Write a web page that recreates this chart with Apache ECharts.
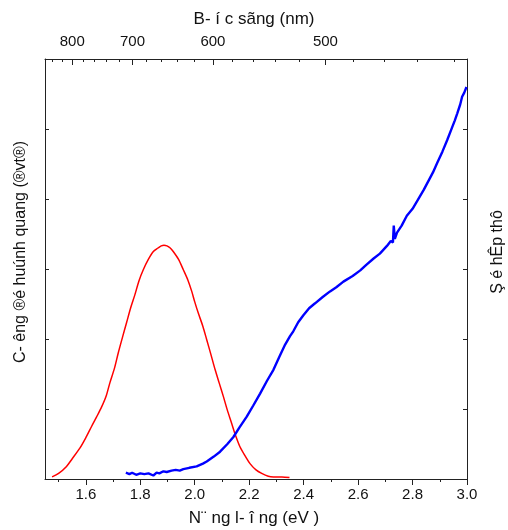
<!DOCTYPE html>
<html><head><meta charset="utf-8">
<script src="https://cdn.jsdelivr.net/npm/echarts@6/dist/echarts.min.js"></script>
<style>html,body{margin:0;padding:0;background:#fff}#c{width:508px;height:530px}</style>
</head><body><div id="c"></div>
<script>
// Bottom axis (energy, eV)
const energyTicks = [1.6, 1.8, 2.0, 2.2, 2.4, 2.6, 2.8, 3.0];
const energyMinorTicks = [1.5, 1.7, 1.9, 2.1, 2.3, 2.5, 2.7, 2.9];
// Top axis (wavelength, nm)
const waveTicks = [800, 700, 600, 500];
const waveMinorTicks = [840, 820, 780, 760, 740, 720, 680, 660, 640, 620, 580, 560, 540, 520, 480, 460, 440, 420];
// Photoluminescence (red)
const plE = [1.476,1.50,1.529,1.55,1.578,1.60,1.621,1.64,1.658,1.675,1.688,1.705,1.719,1.735,1.750,1.765,1.780,1.795,1.811,1.83,1.848,1.865,1.877,1.887,1.898,1.91,1.921,1.94,1.958,1.975,1.989,2.00,2.013,2.03,2.044,2.06,2.075,2.09,2.105,2.12,2.136,2.15,2.166,2.185,2.203,2.225,2.246,2.27,2.289,2.32,2.348];
const plY = [0.03,0.08,0.18,0.29,0.44,0.59,0.75,0.89,1.03,1.19,1.37,1.58,1.80,2.03,2.24,2.45,2.63,2.83,2.99,3.14,3.25,3.30,3.33,3.34,3.33,3.30,3.25,3.14,2.99,2.84,2.68,2.53,2.37,2.18,1.99,1.77,1.56,1.37,1.18,0.98,0.79,0.62,0.46,0.33,0.22,0.13,0.08,0.04,0.03,0.03,0.02];
// Absorption (blue)
const absE = [1.747,1.76,1.77,1.785,1.80,1.815,1.83,1.848,1.86,1.87,1.885,1.897,1.915,1.93,1.945,1.958,1.98,2.007,2.03,2.044,2.07,2.093,2.12,2.142,2.165,2.191,2.215,2.240,2.265,2.289,2.31,2.332,2.35,2.362,2.38,2.399,2.42,2.442,2.47,2.497,2.52,2.546,2.58,2.608,2.63,2.657,2.68,2.706,2.72,2.728,2.731,2.735,2.743,2.76,2.779,2.80,2.82,2.841,2.86,2.875,2.890,2.91,2.927,2.945,2.955,2.964,2.975,2.982,2.99,2.998];
const absY = [0.09,0.07,0.09,0.06,0.08,0.07,0.08,0.05,0.09,0.08,0.11,0.10,0.12,0.13,0.12,0.14,0.16,0.18,0.22,0.25,0.32,0.39,0.50,0.60,0.74,0.89,1.05,1.22,1.40,1.56,1.74,1.92,2.04,2.11,2.24,2.34,2.44,2.51,2.60,2.68,2.74,2.82,2.90,2.98,3.06,3.15,3.22,3.33,3.40,3.38,3.62,3.43,3.52,3.62,3.76,3.86,3.99,4.13,4.27,4.38,4.51,4.68,4.84,5.02,5.12,5.22,5.35,5.46,5.52,5.60];

const toE = nm => 1240 / nm;
const chart = echarts.init(document.getElementById('c'), null, {renderer: 'canvas'});
const FONT = 'Liberation Sans, Arial, sans-serif';
const lineStyle = {color: '#222', width: 1};
const common = {type: 'value', min: 1.45, max: 3.0, splitLine: {show: false}};
chart.setOption({
  animation: false,
  grid: {left: 45, right: 41, top: 59, bottom: 51},
  xAxis: [
    Object.assign({}, common, {
      position: 'bottom',
      axisLine: {show: true, onZero: false, lineStyle},
      axisTick: {show: true, inside: false, length: 6, lineStyle, customValues: energyTicks},
      axisLabel: {show: true, margin: 8, fontSize: 15, color: '#111', fontFamily: FONT,
        customValues: energyTicks, formatter: v => Number(v).toFixed(1)}
    }),
    Object.assign({}, common, {
      position: 'bottom',
      axisLine: {show: false, onZero: false},
      axisTick: {show: true, inside: false, length: 3, lineStyle, customValues: energyMinorTicks},
      axisLabel: {show: false}
    }),
    Object.assign({}, common, {
      position: 'top',
      axisLine: {show: true, onZero: false, lineStyle},
      axisTick: {show: true, inside: true, length: 6, lineStyle, customValues: waveTicks.map(toE)},
      axisLabel: {show: true, margin: 10, fontSize: 15, color: '#111', fontFamily: FONT,
        customValues: waveTicks.map(toE), formatter: v => String(Math.round(1240 / v))}
    }),
    Object.assign({}, common, {
      position: 'top',
      axisLine: {show: false, onZero: false},
      axisTick: {show: true, inside: true, length: 3, lineStyle, customValues: waveMinorTicks.map(toE)},
      axisLabel: {show: false}
    })
  ],
  yAxis: [
    {type: 'value', min: 0, max: 6, interval: 1, position: 'left',
      axisLine: {show: true, onZero: false, lineStyle},
      axisTick: {show: true, inside: true, length: 4, lineStyle},
      axisLabel: {show: false}, splitLine: {show: false}},
    {type: 'value', min: 0, max: 6, interval: 1, position: 'right',
      axisLine: {show: true, onZero: false, lineStyle},
      axisTick: {show: true, inside: true, length: 4, lineStyle},
      axisLabel: {show: false}, splitLine: {show: false}}
  ],
  series: [
    {type: 'line', xAxisIndex: 0, yAxisIndex: 0, showSymbol: false, symbol: 'none', smooth: 0.3,
      lineStyle: {color: '#ff0000', width: 1.5}, data: plE.map((e, i) => [e, plY[i]])},
    {type: 'line', xAxisIndex: 0, yAxisIndex: 1, showSymbol: false, symbol: 'none',
      lineStyle: {color: '#0000ff', width: 2.4}, data: absE.map((e, i) => [e, absY[i]])}
  ],
  graphic: [
    {type: 'text', left: 'center', top: 11, style: {text: 'B- í c sãng (nm)', font: '17px ' + FONT, fill: '#111'}},
    {type: 'text', left: 'center', top: 510, style: {text: 'N¨ ng l- î ng (eV )', font: '17px ' + FONT, fill: '#111'}},
    {type: 'text', x: 13, y: 252, rotation: Math.PI / 2, style: {text: 'C- êng ®é huúnh quang (®vt®)', font: '16px ' + FONT, fill: '#111', align: 'center', verticalAlign: 'top'}},
    {type: 'text', x: 490, y: 252, rotation: Math.PI / 2, style: {text: 'Ş é hÊp thô', font: '16px ' + FONT, fill: '#111', align: 'center', verticalAlign: 'top'}}
  ]
});
</script></body></html>
